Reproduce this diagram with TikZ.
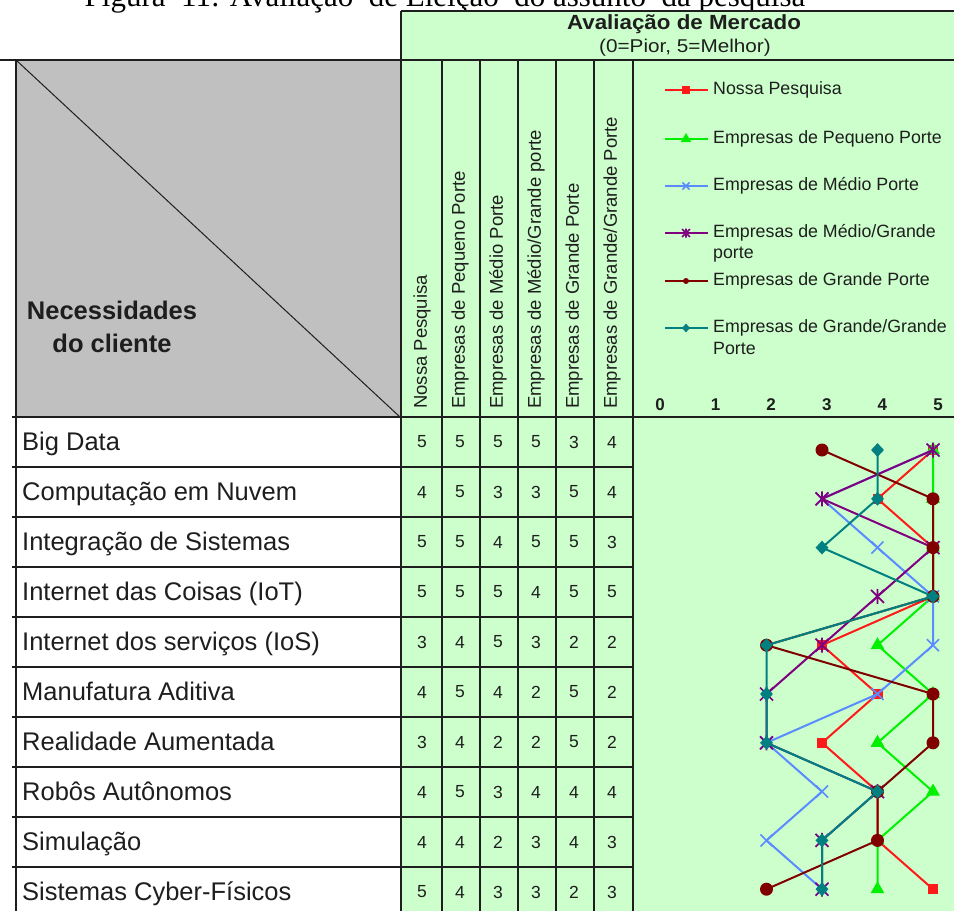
\documentclass[tikz,border=0pt]{standalone}
\usepackage{fontspec}
\setmainfont{Liberation Sans}
\newfontfamily\capfont{Liberation Serif}
\usetikzlibrary{shapes.geometric}
\definecolor{grn}{HTML}{CCFFCC}
\definecolor{gry}{HTML}{C0C0C0}
\definecolor{sRed}{HTML}{FF1A1A}
\definecolor{sGreen}{HTML}{00F000}
\definecolor{sBlue}{HTML}{5A8CFF}
\definecolor{sPurple}{HTML}{800080}
\definecolor{sBrown}{HTML}{800000}
\definecolor{sTeal}{HTML}{008080}
\definecolor{ink}{HTML}{1E1E1E}
\begin{document}
\begin{tikzpicture}[x=1pt,y=-1pt,
  grid/.style={line width=1.8pt, draw=ink},
  lab/.style={anchor=base west, font=\fontsize{25.5}{30}\selectfont, inner sep=0, text=ink},
  num/.style={font=\fontsize{17.5}{20}\selectfont, inner sep=0, text=ink},
  colhead/.style={rotate=90, anchor=west, font=\fontsize{18.5}{20}\selectfont, inner sep=0, text=ink},
  legtext/.style={anchor=west, font=\fontsize{17.8}{20}\selectfont, inner sep=0, text=ink},
  axlab/.style={font=\fontsize{17}{18}\selectfont\bfseries, inner sep=0, text=ink},
  series/.style={line width=2pt, line join=round},
  mRed/.style={rectangle, fill=sRed, minimum size=10pt, inner sep=0},
  mGreen/.style={regular polygon, regular polygon sides=3, fill=sGreen, minimum size=16pt, inner sep=0},
  mBrown/.style={circle, fill=sBrown, minimum size=13pt, inner sep=0},
  mTeal/.style={diamond, fill=sTeal, minimum width=13pt, minimum height=14pt, inner sep=0, aspect=1},
  xcross/.pic={\draw[sBlue, line width=1.6pt] (-6,-6)--(6,6) (-6,6)--(6,-6);},
  xstar/.pic={\draw[sPurple, line width=1.7pt] (-6.5,-6.5)--(6.5,6.5) (-6.5,6.5)--(6.5,-6.5) (0,-7.5)--(0,7.5);},
]
\useasboundingbox (0,0) rectangle (954,911);
\fill[white] (0,0) rectangle (954,911);
% caption (cut off at top, as in the reference)
\node[anchor=base, font=\capfont\fontsize{31}{32}\selectfont, inner sep=0] (caption) at (445,6) {Figura \ 11: Avaliação \ de Eleição \ do assunto \ da pesquisa};
% backgrounds
\fill[grn] (402,11) rectangle (954,911);
\fill[gry] (16,60) rectangle (400,417);
% grid
\draw[grid] (401,11) -- (954,11);
\draw[grid] (0,60) -- (954,60);
\draw[grid] (12,417) -- (954,417);
\foreach \y in {467,517,...,867} {\draw[grid] (12,\y) -- (633,\y);}
\foreach \x in {16,401,442,480,518,556,594,633} {\draw[grid] (\x,60) -- (\x,911);}
\draw[grid] (401,11) -- (401,60);
\draw[line width=1pt, draw=ink] (16,60) -- (400,417);
% headers
\node[font=\fontsize{20.5}{22}\selectfont\bfseries, xscale=1.09, inner sep=0, text=ink] (hA) at (684,24) {Avaliação de Mercado};
\node[font=\fontsize{18.5}{20}\selectfont, xscale=1.12, inner sep=0, text=ink] (hB) at (685,48) {(0=Pior, 5=Melhor)};
\node[font=\fontsize{25.5}{33}\selectfont\bfseries, align=center, inner sep=0, text=ink] (need) at (112,327) {Necessidades\\do cliente};
\foreach \t [count=\j from 0] in {Nossa Pesquisa, Empresas de Pequeno Porte, Empresas de Médio Porte, Empresas de Médio/Grande porte, Empresas de Grande Porte, Empresas de Grande/Grande Porte}
  {\node[colhead] (col\j) at ({422+38*\j},409) {\t};}
% row labels
\foreach \t [count=\i from 0] in {Big Data, Computação em Nuvem, Integração de Sistemas, Internet das Coisas (IoT), Internet dos serviços (IoS), Manufatura Aditiva, Realidade Aumentada, Robôs Autônomos, Simulação, Sistemas Cyber-Físicos}
  {\node[lab] (row\i) at (22,{450+50*\i}) {\t};}
% numbers
\foreach \vals [count=\i from 0] in {{5,5,5,5,3,4},{4,5,3,3,5,4},{5,5,4,5,5,3},{5,5,5,4,5,5},{3,4,5,3,2,2},{4,5,4,2,5,2},{3,4,2,2,5,2},{4,5,3,4,4,4},{4,4,2,3,4,3},{5,4,3,3,2,3}}
  {\foreach \v [count=\j from 0] in \vals {\node[num] (n\i-\j) at ({422+38*\j},{442+50*\i}) {\v};}}
% axis labels
\foreach \k in {0,...,5} {\node[axlab] (ax\k) at ({660+55.6*\k},405) {\k};}
% legend
\foreach \nm/\yy in {red/90,green/139,blue/186,purple/233,brown/281,teal/328}
  {\coordinate (L\nm a) at (665,\yy); \coordinate (L\nm b) at (708,\yy); \coordinate (L\nm m) at (686,\yy);}
\draw[series, sRed] (Lreda) -- (Lredb); \node[mRed, minimum size=8pt] at (Lredm) {};
\draw[series, sGreen] (Lgreena) -- (Lgreenb); \node[mGreen, minimum size=12pt] at (Lgreenm) {};
\draw[series, sBlue] (Lbluea) -- (Lblueb); \pic[scale=0.6] at (Lbluem) {xcross};
\draw[series, sPurple] (Lpurplea) -- (Lpurpleb); \pic[scale=0.6] at (Lpurplem) {xstar};
\draw[series, sBrown] (Lbrowna) -- (Lbrownb); \node[mBrown, minimum size=6pt] at (Lbrownm) {};
\draw[series, sTeal] (Lteala) -- (Ltealb); \node[mTeal, minimum width=8pt, minimum height=9pt] at (Ltealm) {};
\node[legtext] (t1) at (713,90) {Nossa Pesquisa};
\node[legtext] (t2) at (713,139) {Empresas de Pequeno Porte};
\node[legtext] (t3) at (713,186) {Empresas de Médio Porte};
\node[legtext] (t4) at (713,233) {Empresas de Médio/Grande};
\node[legtext] (t4b) at (713,255) {porte};
\node[legtext] (t5) at (713,281) {Empresas de Grande Porte};
\node[legtext] (t6) at (713,328) {Empresas de Grande/Grande};
\node[legtext] (t6b) at (713,348) {Porte};
% series points
\foreach \nm/\vals in {red/{5,4,5,5,3,4,3,4,4,5}, green/{5,5,5,5,4,5,4,5,4,4}, blue/{5,3,4,5,5,4,2,3,2,3}, purple/{5,3,5,4,3,2,2,4,3,3}, brown/{3,5,5,5,2,5,5,4,4,2}, teal/{4,4,3,5,2,2,2,4,3,3}}
  {\foreach \v [count=\i from 0] in \vals {\coordinate (\nm\i) at ({655.5+55.5*\v},{450+48.8*\i});}}
% red
\draw[series, sRed] (red0) \foreach \i in {1,...,9} {-- (red\i)};
\foreach \i in {0,...,9} {\node[mRed] at (red\i) {};}
% green
\draw[series, sGreen] (green0) \foreach \i in {1,...,9} {-- (green\i)};
\foreach \i in {0,...,9} {\node[mGreen] at (green\i) {};}
% blue
\draw[series, sBlue] (blue0) \foreach \i in {1,...,9} {-- (blue\i)};
\foreach \i in {0,...,9} {\pic at (blue\i) {xcross};}
% purple
\draw[series, sPurple] (purple0) \foreach \i in {1,...,9} {-- (purple\i)};
\foreach \i in {0,...,9} {\pic at (purple\i) {xstar};}
% brown
\draw[series, sBrown] (brown0) \foreach \i in {1,...,9} {-- (brown\i)};
\foreach \i in {0,...,9} {\node[mBrown] at (brown\i) {};}
% teal
\draw[series, sTeal] (teal0) \foreach \i in {1,...,9} {-- (teal\i)};
\foreach \i in {0,...,9} {\node[mTeal] at (teal\i) {};}
\end{tikzpicture}
\end{document}
